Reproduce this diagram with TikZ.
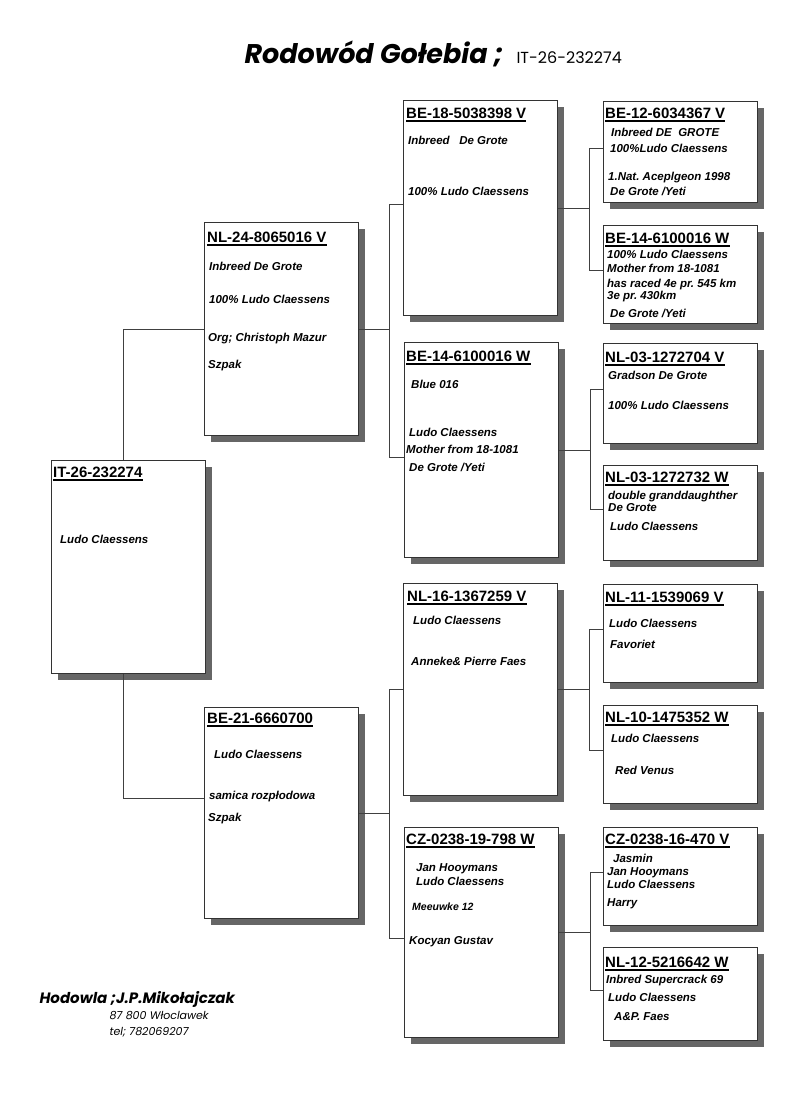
\documentclass[tikz,border=0pt]{standalone}
\usepackage{fontspec}
\setmainfont{Liberation Sans}
\newfontfamily\comicfont{Poppins}
\usetikzlibrary{shadows}
\frenchspacing

\tikzset{
    card/.style = {draw = black!80, line width = 0.9pt, fill = white,
        anchor = north west, inner sep = 0pt, minimum width = 154pt,
        drop shadow = {shadow xshift = 7pt, shadow yshift = -7pt,
                       fill = black!60, opacity = 1}},
    ring/.style = {anchor = base west, inner sep = 0pt,
        font = \fontsize{15}{18}\selectfont\bfseries,
        append after command = {([yshift=-3pt]\tikzlastnode.base west)
            edge[line width = 1.2pt] ([yshift=-3pt]\tikzlastnode.base east)}},
    info/.style = {anchor = base west, inner sep = 0pt,
        font = \fontsize{11.5}{13}\selectfont\bfseries\itshape},
    link/.style = {draw = black!75, line width = 0.7pt}
}

\newcommand\ringno[4]{\node[ring] (#1-r) at ([shift={(#2,#3)}]#1.north west) {#4};}

\begin{document}
\begin{tikzpicture}[x = 1pt, y = -1pt]

\useasboundingbox[fill = white] (0,0) rectangle (800,1100);

\node[anchor = base west, font = \comicfont\bfseries\itshape\fontsize{27}{30}\selectfont]
    (title) at (241,63) {Rodowód Gołebia ;};
\node[anchor = base west, font = \comicfont\fontsize{16}{18}\selectfont]
    (titlering) at (513,63) {IT-26-232274};

% cards
\node[card, minimum height = 213pt] (p) at (51,460) {};
\node[card, minimum height = 213pt] (s) at (204,222) {};
\node[card, minimum height = 211pt] (d) at (204,707) {};
\node[card, minimum height = 215pt] (ss) at (403,100) {};
\node[card, minimum height = 215pt] (sd) at (404,342) {};
\node[card, minimum height = 212pt] (ds) at (403,583) {};
\node[card, minimum height = 210pt] (dd) at (404,827) {};
\node[card, minimum height = 101pt] (sss) at (603,101) {};
\node[card, minimum height = 98pt] (ssd) at (603,225) {};
\node[card, minimum height = 100pt] (sds) at (603,343) {};
\node[card, minimum height = 95pt] (sdd) at (603,465) {};
\node[card, minimum height = 98pt] (dss) at (603,584) {};
\node[card, minimum height = 98pt] (dsd) at (603,705) {};
\node[card, minimum height = 98pt] (dds) at (603,827) {};
\node[card, minimum height = 93pt] (ddd) at (603,947) {};

% links
\draw[link] ([xshift=-5pt]p.north) |- (s.west);
\draw[link] ([xshift=-5pt]p.south) |- ([yshift=15pt]d.west);

\draw[link] (s.east) -- ([xshift=30pt]s.east);
\draw[link] ([yshift=4pt]ss.west) -| ([xshift=30pt]s.east) |- ([yshift=-7pt]sd.west);
\draw[link] (d.east) -- ([xshift=30pt]d.east);
\draw[link] (ds.west) -| ([xshift=30pt]d.east) |- ([yshift=-6pt]dd.west);

\foreach \up/\a/\b in {ss/sss/ssd, sd/sds/sdd, ds/dss/dsd, dd/dds/ddd} {
    \draw[link] (\up.east) -- ([xshift=31pt]\up.east);
    \draw[link] ([yshift=4pt]\a.west) -| ([xshift=31pt]\up.east) |- ([yshift=4pt]\b.west);
}

% texts
\ringno{p}{2}{17}{IT-26-232274}
\node[info] (p-1) at ([shift={(9,83)}]p.north west) {Ludo Claessens};

\ringno{s}{3}{20}{NL-24-8065016 V}
\foreach \dx/\dy/\txt [count=\i] in {5/48/Inbreed De Grote, 5/81/100\% Ludo Claessens,
        4/119/Org; Christoph Mazur, 4/146/Szpak}
    \node[info] (s-\i) at ([shift={(\dx,\dy)}]s.north west) {\txt};

\ringno{d}{3}{16}{BE-21-6660700}
\foreach \dx/\dy/\txt [count=\i] in {10/51/Ludo Claessens, 5/92/samica rozpłodowa, 4/114/Szpak}
    \node[info] (d-\i) at ([shift={(\dx,\dy)}]d.north west) {\txt};

\ringno{ss}{3}{18}{BE-18-5038398 V}
\foreach \dx/\dy/\txt [count=\i] in {5/44/Inbreed\ \ \ De Grote, 5/95/100\% Ludo Claessens}
    \node[info] (ss-\i) at ([shift={(\dx,\dy)}]ss.north west) {\txt};

\ringno{sd}{2}{19}{BE-14-6100016 W}
\foreach \dx/\dy/\txt [count=\i] in {7/46/Blue 016, 5/94/Ludo Claessens,
        2/111/Mother from 18-1081, 5/129/{De Grote /Yeti}}
    \node[info] (sd-\i) at ([shift={(\dx,\dy)}]sd.north west) {\txt};

\ringno{ds}{4}{18}{NL-16-1367259 V}
\foreach \dx/\dy/\txt [count=\i] in {10/41/Ludo Claessens, 8/82/Anneke\& Pierre Faes}
    \node[info] (ds-\i) at ([shift={(\dx,\dy)}]ds.north west) {\txt};

\ringno{dd}{2}{17}{CZ-0238-19-798 W}
\foreach \dx/\dy/\txt [count=\i] in {12/44/Jan Hooymans, 12/58/Ludo Claessens, 5/117/Kocyan Gustav}
    \node[info] (dd-\i) at ([shift={(\dx,\dy)}]dd.north west) {\txt};
\node[info, font = \fontsize{10.5}{12}\selectfont\bfseries\itshape]
    (dd-4) at ([shift={(8,83)}]dd.north west) {Meeuwke 12};

\ringno{sss}{2}{17}{BE-12-6034367 V}
\foreach \dx/\dy/\txt [count=\i] in {8/35/Inbreed DE\ \ GROTE, 7/51/100\%Ludo Claessens,
        5/79/1.Nat. Aceplgeon 1998, 7/94/{De Grote /Yeti}}
    \node[info] (sss-\i) at ([shift={(\dx,\dy)}]sss.north west) {\txt};

\ringno{ssd}{2}{18}{BE-14-6100016 W}
\foreach \dx/\dy/\txt [count=\i] in {4/33/100\% Ludo Claessens, 4/47/Mother from 18-1081,
        4/62/has raced 4e pr. 545 km, 4/74/3e pr. 430km, 7/92/{De Grote /Yeti}}
    \node[info] (ssd-\i) at ([shift={(\dx,\dy)}]ssd.north west) {\txt};

\ringno{sds}{2}{19}{NL-03-1272704 V}
\foreach \dx/\dy/\txt [count=\i] in {5/36/Gradson De Grote, 5/66/100\% Ludo Claessens}
    \node[info] (sds-\i) at ([shift={(\dx,\dy)}]sds.north west) {\txt};

\ringno{sdd}{2}{17}{NL-03-1272732 W}
\foreach \dx/\dy/\txt [count=\i] in {5/34/double granddaughther, 5/46/De Grote, 7/65/Ludo Claessens}
    \node[info] (sdd-\i) at ([shift={(\dx,\dy)}]sdd.north west) {\txt};

\ringno{dss}{2}{18}{NL-11-1539069 V}
\foreach \dx/\dy/\txt [count=\i] in {6/43/Ludo Claessens, 7/64/Favoriet}
    \node[info] (dss-\i) at ([shift={(\dx,\dy)}]dss.north west) {\txt};

\ringno{dsd}{2}{17}{NL-10-1475352 W}
\foreach \dx/\dy/\txt [count=\i] in {8/37/Ludo Claessens, 12/69/Red Venus}
    \node[info] (dsd-\i) at ([shift={(\dx,\dy)}]dsd.north west) {\txt};

\ringno{dds}{2}{17}{CZ-0238-16-470 V}
\foreach \dx/\dy/\txt [count=\i] in {10/35/Jasmin, 4/48/Jan Hooymans, 4/61/Ludo Claessens, 4/79/Harry}
    \node[info] (dds-\i) at ([shift={(\dx,\dy)}]dds.north west) {\txt};

\ringno{ddd}{2}{20}{NL-12-5216642 W}
\foreach \dx/\dy/\txt [count=\i] in {3/36/Inbred Supercrack 69, 5/54/Ludo Claessens, 11/73/A\&P. Faes}
    \node[info] (ddd-\i) at ([shift={(\dx,\dy)}]ddd.north west) {\txt};

% breeder
\node[anchor = base west, font = \comicfont\bfseries\itshape\fontsize{15}{17}\selectfont]
    (breeder) at (36,1003) {Hodowla ;J.P.Mikołajczak};
\node[anchor = base west, font = \comicfont\itshape\fontsize{11}{13}\selectfont]
    (addr) at (106,1019) {87 800 Włoclawek};
\node[anchor = base west, font = \comicfont\itshape\fontsize{11}{13}\selectfont]
    (tel) at (106,1035) {tel; 782069207};

\end{tikzpicture}
\end{document}
